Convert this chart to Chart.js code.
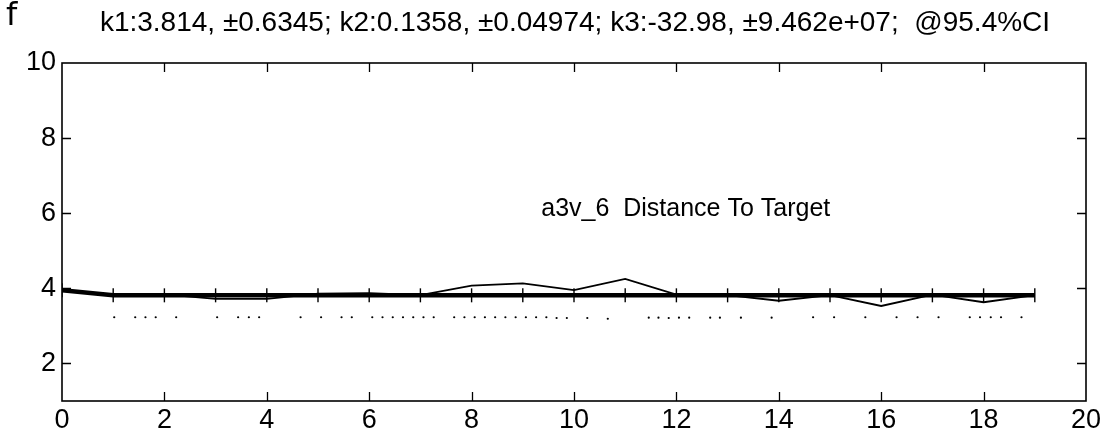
<!DOCTYPE html>
<html>
<head>
<meta charset="utf-8">
<script src="https://cdn.jsdelivr.net/npm/chart.js@4/dist/chart.umd.min.js"></script>
<style>
  html, body { margin: 0; padding: 0; background: #ffffff; }
  #wrap { width: 1110px; height: 438px; position: relative; }
</style>
</head>
<body>
<div id="wrap"><canvas id="c" width="1110" height="438"></canvas></div>
<script>
// Run index along the x axis
const runIndex = [0, 1, 2, 3, 4, 5, 6, 7, 8, 9, 10, 11, 12, 13, 14, 15, 16, 17, 18, 19];
// Measured distance to target for each run
const measured = [3.95, 3.80, 3.84, 3.72, 3.72, 3.86, 3.87, 3.82, 4.07, 4.13,
                  3.95, 4.25, 3.83, 3.82, 3.67, 3.82, 3.53, 3.83, 3.63, 3.82];
// Fitted model (k1 + k2 * exp(k3 * x)) evaluated at each run
const fitted = [3.95, 3.814, 3.814, 3.814, 3.814, 3.814, 3.814, 3.814, 3.814, 3.814,
                3.814, 3.814, 3.814, 3.814, 3.814, 3.814, 3.814, 3.814, 3.814, 3.814];
// Sample marks drawn as a dotted row below the curves
const sampleX = [1.02, 1.43, 1.63, 1.83, 2.23, 3.03, 3.44, 3.65, 3.85, 4.66,
                 5.06, 5.46, 5.66, 6.06, 6.26, 6.46, 6.66, 6.86, 7.06, 7.26,
                 7.66, 7.86, 8.06, 8.26, 8.46, 8.66, 8.86, 9.06, 9.26, 9.46,
                 9.66, 9.86, 10.26, 10.66, 11.46, 11.65, 11.85, 12.05, 12.25, 12.66,
                 12.85, 13.26, 13.86, 14.67, 15.08, 15.69, 16.30, 16.71, 17.12, 17.73,
                 17.93, 18.14, 18.34, 18.74];
const sampleY = [3.23, 3.23, 3.23, 3.23, 3.23, 3.23, 3.23, 3.23, 3.23, 3.23,
                 3.23, 3.23, 3.23, 3.23, 3.23, 3.23, 3.23, 3.23, 3.23, 3.23,
                 3.23, 3.23, 3.23, 3.23, 3.23, 3.23, 3.23, 3.23, 3.23, 3.23,
                 3.21, 3.21, 3.21, 3.19, 3.22, 3.22, 3.21, 3.22, 3.22, 3.22,
                 3.22, 3.22, 3.22, 3.23, 3.23, 3.23, 3.23, 3.23, 3.23, 3.23,
                 3.23, 3.23, 3.23, 3.23];
// Axis ticks
const xTickValues = [0, 2, 4, 6, 8, 10, 12, 14, 16, 18, 20];
const yTickValues = [2, 4, 6, 8, 10];
const xRange = [0, 20];
const yRange = [1, 10];

const titleText = 'k1:3.814, \u00b10.6345; k2:0.1358, \u00b10.04974; k3:-32.98, \u00b19.462e+07;  @95.4%CI';
const noteText = 'a3v_6  Distance To Target';
const notePos = { x: 9.36, y: 6.12 };
const cornerMark = 'f';

const FONT = '"Liberation Sans", Arial, Helvetica, sans-serif';

const pairs = (xs, ys) => xs.map((x, i) => ({ x: x, y: ys[i] }));

const framePlugin = {
  id: 'frame',
  beforeDraw(chart) {
    const ctx = chart.ctx;
    ctx.save();
    ctx.fillStyle = '#ffffff';
    ctx.fillRect(0, 0, chart.width, chart.height);
    ctx.restore();
  },
  afterDraw(chart) {
    const ctx = chart.ctx;
    const a = chart.chartArea;
    const xs = chart.scales.x;
    const ys = chart.scales.y;
    const len = 9;
    ctx.save();
    ctx.strokeStyle = '#000';
    ctx.lineWidth = 1.6;
    ctx.strokeRect(a.left, a.top, a.right - a.left, a.bottom - a.top);
    ctx.lineWidth = 1.3;
    ctx.beginPath();
    xTickValues.forEach(v => {
      if (v <= xRange[0] || v >= xRange[1]) return;
      const px = Math.round(xs.getPixelForValue(v)) + 0.5;
      ctx.moveTo(px, a.bottom); ctx.lineTo(px, a.bottom - len);
      ctx.moveTo(px, a.top); ctx.lineTo(px, a.top + len);
    });
    yTickValues.forEach(v => {
      if (v <= yRange[0] || v >= yRange[1]) return;
      const py = Math.round(ys.getPixelForValue(v)) + 0.5;
      ctx.moveTo(a.left, py); ctx.lineTo(a.left + len, py);
      ctx.moveTo(a.right, py); ctx.lineTo(a.right - len, py);
    });
    ctx.stroke();

    ctx.fillStyle = '#000';
    ctx.textBaseline = 'middle';
    ctx.textAlign = 'center';
    ctx.font = '28px ' + FONT;
    ctx.fillText(titleText, 575, 23);

    ctx.textAlign = 'left';
    ctx.font = '25px ' + FONT;
    ctx.fillText(noteText, xs.getPixelForValue(notePos.x), ys.getPixelForValue(notePos.y));

    ctx.font = '32px "DejaVu Sans", sans-serif';
    ctx.fillText(cornerMark, 6, 17);
    ctx.restore();
  }
};

new Chart(document.getElementById('c'), {
  type: 'scatter',
  data: {
    datasets: [
      {
        label: 'fit',
        data: pairs(runIndex, fitted),
        showLine: true,
        borderColor: '#000',
        borderWidth: 4.5,
        pointStyle: 'line',
        rotation: 90,
        pointRadius: 7,
        pointBorderWidth: 1.4,
        pointBorderColor: '#000',
        pointBackgroundColor: '#000',
        tension: 0,
        order: 2
      },
      {
        label: 'measured',
        data: pairs(runIndex, measured),
        showLine: true,
        borderColor: '#000',
        borderWidth: 1.8,
        pointRadius: 0,
        tension: 0,
        order: 1
      },
      {
        label: 'samples',
        data: pairs(sampleX, sampleY),
        showLine: false,
        pointStyle: 'circle',
        pointRadius: 1.1,
        borderWidth: 0,
        backgroundColor: '#000',
        pointBackgroundColor: '#000',
        order: 3
      }
    ]
  },
  options: {
    responsive: false,
    devicePixelRatio: 1,
    animation: false,
    layout: { padding: { top: 63, right: 24, left: 0, bottom: 0 } },
    plugins: {
      legend: { display: false },
      tooltip: { enabled: false },
      title: { display: false }
    },
    scales: {
      x: {
        type: 'linear',
        min: xRange[0],
        max: xRange[1],
        afterBuildTicks: s => { s.ticks = xTickValues.map(v => ({ value: v })); },
        afterFit: s => { s.height = 37; },
        grid: { display: false, drawTicks: false },
        border: { display: false },
        ticks: {
          color: '#000',
          font: { family: FONT, size: 27 },
          padding: 3,
          maxRotation: 0,
          autoSkip: false
        }
      },
      y: {
        type: 'linear',
        min: yRange[0],
        max: yRange[1],
        afterBuildTicks: s => { s.ticks = yTickValues.map(v => ({ value: v })); },
        afterFit: s => { s.width = 62; },
        grid: { display: false, drawTicks: false },
        border: { display: false },
        ticks: {
          color: '#000',
          font: { family: FONT, size: 27 },
          padding: 6,
          autoSkip: false
        }
      }
    }
  },
  plugins: [framePlugin]
});
</script>
</body>
</html>
